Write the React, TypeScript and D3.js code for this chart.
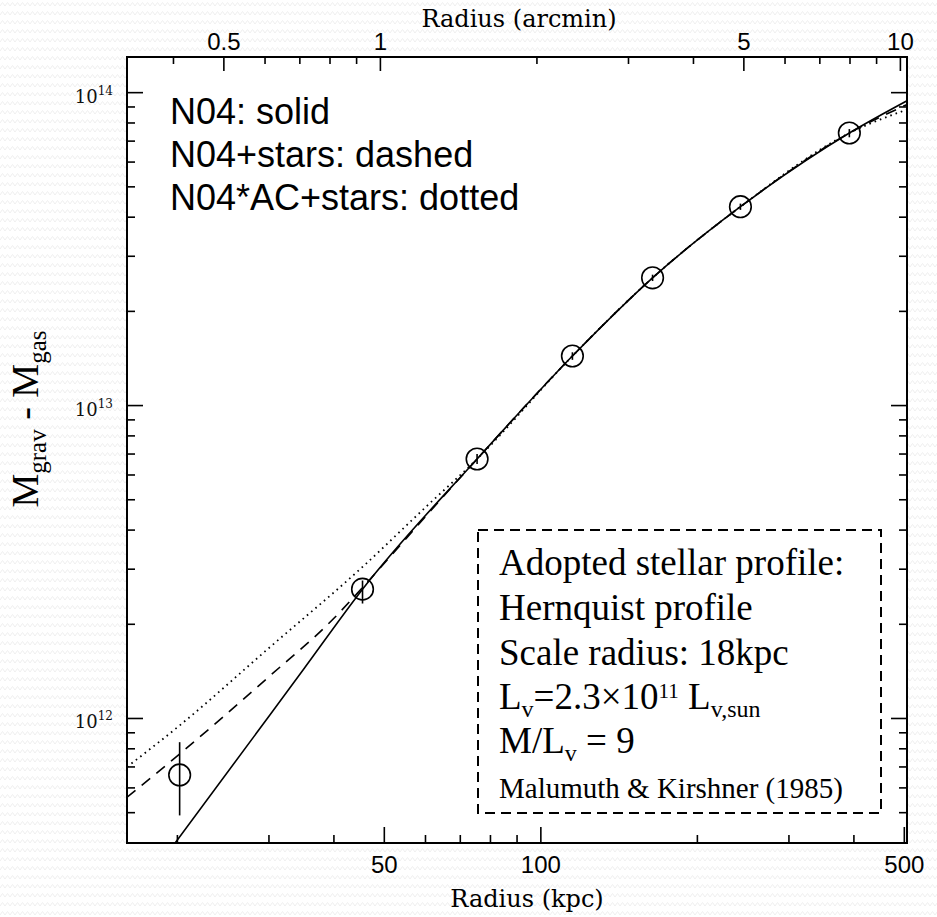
import React from 'react';
import * as d3 from 'd3';

const W = 937;
const H = 917;
const PLOT = { left: 127, right: 907, top: 57, bottom: 843 };

// axis domains
const kpcDomain = [16, 506];
const massDomain = [4e11, 1.3e14];
const kpcPerArcmin = 49.14;

// tick labels
const kpcLabels = [50, 100, 500];
const arcminLabels = [0.5, 1, 5, 10];
const massLabelExps = [12, 13, 14];

// observed points (kpc, mass) with error bars
const obsRadius = [20.2, 45.4, 75.4, 115, 164, 242, 392];
const obsMass = [6.6e11, 2.59e12, 6.75e12, 1.44e13, 2.56e13, 4.32e13, 7.43e13];
const obsLow = [4.9e11, 2.33e12, 6.5e12, 1.4e13, 2.5e13, 4.22e13, 7.2e13];
const obsHigh = [8.4e11, 2.76e12, 7.0e12, 1.48e13, 2.62e13, 4.42e13, 7.65e13];

// model curves
const solidR = [16, 19.8, 35, 45.4, 75.4, 115, 164, 242, 392, 506];
const solidM = [2.5e11, 4.0e11, 1.44e12, 2.59e12, 6.75e12, 1.44e13, 2.56e13, 4.32e13, 7.43e13, 9.42e13];
const dashedR = [16, 20.2, 30, 40, 45.4, 60, 75.4, 115, 164, 242, 392, 506];
const dashedM = [5.6e11, 7.7e11, 1.36e12, 2.09e12, 2.62e12, 4.42e12, 6.75e12, 1.44e13, 2.56e13, 4.32e13, 7.43e13, 9.16e13];
const dottedR = [16, 20.2, 30, 45.4, 60, 75.4, 115, 164, 242, 392, 506];
const dottedM = [7.0e11, 9.5e11, 1.68e12, 3.05e12, 4.73e12, 6.75e12, 1.44e13, 2.56e13, 4.32e13, 7.43e13, 8.83e13];

const legendLines = ['N04: solid', 'N04+stars: dashed', 'N04*AC+stars: dotted'];

export default function App() {
  const x = d3.scaleLog().domain(kpcDomain).range([PLOT.left, PLOT.right]);
  const xTop = d3
    .scaleLog()
    .domain([kpcDomain[0] / kpcPerArcmin, kpcDomain[1] / kpcPerArcmin])
    .range([PLOT.left, PLOT.right]);
  const y = d3.scaleLog().domain(massDomain).range([PLOT.bottom, PLOT.top]);

  const line = d3
    .line<[number, number]>()
    .x((d) => x(d[0]))
    .y((d) => y(d[1]))
    .curve(d3.curveMonotoneX);

  const zip = (a: number[], b: number[]) => a.map((v, i) => [v, b[i]] as [number, number]);

  const xTicks = x.ticks().filter((v) => v >= kpcDomain[0] && v <= kpcDomain[1]);
  const xTopTicks = xTop.ticks().filter((v) => v >= xTop.domain()[0] && v <= xTop.domain()[1]);
  const yTicks = y.ticks().filter((v) => v >= massDomain[0] && v <= massDomain[1]);

  const isMajor = (v: number, list: number[]) => list.some((l) => Math.abs(l - v) / l < 1e-6);
  const yMajors = massLabelExps.map((e) => Math.pow(10, e));

  const MAJ = 16;
  const MIN = 8;

  return (
    <svg
      width={W}
      height={H}
      style={{ position: 'absolute', left: 0, top: 0, background: '#fff' }}
    >
      <defs>
        <pattern id="bgpat" width="10" height="9" patternUnits="userSpaceOnUse">
          <path d="M0,6 L2.5,2.5 L5,6 L7.5,2.5 L10,6" fill="none" stroke="#efefef" strokeWidth="1" />
        </pattern>
        <clipPath id="plotclip">
          <rect x={PLOT.left} y={PLOT.top} width={PLOT.right - PLOT.left} height={PLOT.bottom - PLOT.top} />
        </clipPath>
      </defs>
      <rect x={0} y={0} width={W} height={H} fill="url(#bgpat)" />
      <rect
        x={PLOT.left}
        y={PLOT.top}
        width={PLOT.right - PLOT.left}
        height={PLOT.bottom - PLOT.top}
        fill="#fff"
      />

      {/* curves */}
      <g clipPath="url(#plotclip)" fill="none" stroke="#000">
        <path d={line(zip(solidR, solidM)) || ''} strokeWidth={1.6} />
        <path d={line(zip(dashedR, dashedM)) || ''} strokeWidth={1.6} strokeDasharray="11 8" />
        <path d={line(zip(dottedR, dottedM)) || ''} strokeWidth={1.8} strokeDasharray="1.6 4" />
      </g>

      {/* data points */}
      <g clipPath="url(#plotclip)" fill="none" stroke="#000" strokeWidth={1.6}>
        {obsRadius.map((r, i) => (
          <g key={i}>
            <line x1={x(r)} x2={x(r)} y1={y(obsLow[i])} y2={y(obsHigh[i])} />
            <circle cx={x(r)} cy={y(obsMass[i])} r={10.8} />
          </g>
        ))}
      </g>

      {/* frame */}
      <rect
        x={PLOT.left}
        y={PLOT.top}
        width={PLOT.right - PLOT.left}
        height={PLOT.bottom - PLOT.top}
        fill="none"
        stroke="#000"
        strokeWidth={2}
      />

      {/* ticks */}
      <g stroke="#000" strokeWidth={1.6}>
        {xTicks.map((v) => {
          const len = isMajor(v, kpcLabels) ? MAJ : MIN;
          return <line key={'b' + v} x1={x(v)} x2={x(v)} y1={PLOT.bottom} y2={PLOT.bottom - len} />;
        })}
        {xTopTicks.map((v) => {
          const len = isMajor(v, arcminLabels) ? MAJ - 2 : MIN - 1;
          return <line key={'t' + v} x1={xTop(v)} x2={xTop(v)} y1={PLOT.top} y2={PLOT.top + len} />;
        })}
        {yTicks.map((v) => {
          const len = isMajor(v, yMajors) ? MAJ : MIN;
          return (
            <g key={'y' + v}>
              <line x1={PLOT.left} x2={PLOT.left + len} y1={y(v)} y2={y(v)} />
              <line x1={PLOT.right} x2={PLOT.right - len} y1={y(v)} y2={y(v)} />
            </g>
          );
        })}
      </g>

      {/* tick labels */}
      <g fontFamily="'Liberation Sans', Arial, sans-serif" fontSize={24} fill="#000" textAnchor="middle">
        {kpcLabels.map((v) => (
          <text key={'bl' + v} x={x(v)} y={873}>
            {v}
          </text>
        ))}
        {arcminLabels.map((v) => (
          <text key={'tl' + v} x={xTop(v)} y={50}>
            {v}
          </text>
        ))}
      </g>
      <g fontFamily="'DejaVu Serif', serif" fill="#111" textAnchor="end">
        {massLabelExps.map((e) => (
          <text key={'yl' + e} x={113} y={y(Math.pow(10, e)) + 10} fontSize={18}>
            10
            <tspan fontSize={12} dy={-8}>
              {e}
            </tspan>
          </text>
        ))}
      </g>

      {/* axis titles */}
      <text x={519} y={27} textAnchor="middle" fontFamily="'DejaVu Serif', serif" fontSize={24}>
        Radius (arcmin)
      </text>
      <text x={527} y={907} textAnchor="middle" fontFamily="'DejaVu Serif', serif" fontSize={24}>
        Radius (kpc)
      </text>
      <text
        transform="translate(38,419) rotate(-90)"
        textAnchor="middle"
        fontFamily="'Liberation Serif', 'Times New Roman', serif"
        fontSize={38}
      >
        M<tspan fontSize={25} dy={8}>grav</tspan>
        <tspan dy={-8}> - M</tspan>
        <tspan fontSize={25} dy={8}>gas</tspan>
      </text>

      {/* legend text */}
      <g fontFamily="'Liberation Sans', Arial, sans-serif" fontSize={36} fill="#000">
        {legendLines.map((t, i) => (
          <text key={t} x={170} y={124 + i * 43}>
            {t}
          </text>
        ))}
      </g>

      {/* dashed info box */}
      <rect x={478} y={530} width={403} height={283} fill="#fff" stroke="#000" strokeWidth={2} strokeDasharray="10 6" />
      <g fontFamily="'Liberation Serif', 'Times New Roman', serif" fontSize={37} fill="#000">
        <text x={499} y={575}>Adopted stellar profile:</text>
        <text x={499} y={620}>Hernquist profile</text>
        <text x={499} y={665}>Scale radius: 18kpc</text>
        <text x={499} y={709}>
          L<tspan fontSize={24} dy={8}>v</tspan>
          <tspan dy={-8}>=2.3×10</tspan>
          <tspan fontSize={21} dy={-11}>11</tspan>
          <tspan dy={11}> L</tspan>
          <tspan fontSize={24} dy={8}>v,sun</tspan>
        </text>
        <text x={499} y={753}>
          M/L<tspan fontSize={24} dy={8}>v</tspan>
          <tspan dy={-8}> = 9</tspan>
        </text>
        <text x={499} y={798} fontSize={29}>
          Malumuth &amp; Kirshner (1985)
        </text>
      </g>
    </svg>
  );
}
